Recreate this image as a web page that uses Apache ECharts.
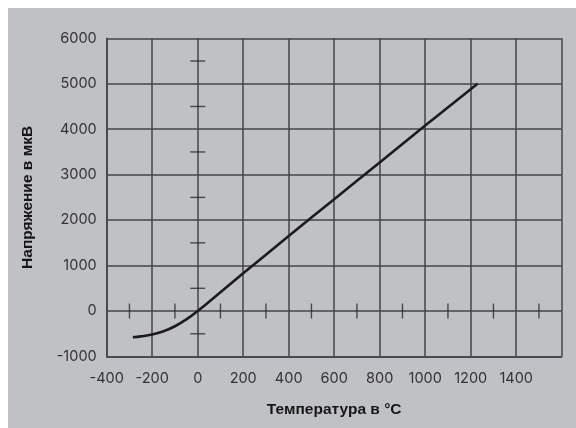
<!DOCTYPE html>
<html>
<head>
<meta charset="utf-8">
<script src="https://cdn.jsdelivr.net/npm/echarts@6/dist/echarts.min.js"></script>
<style>
html,body{margin:0;padding:0;background:#ffffff;}
#chart{position:absolute;left:8px;top:8px;width:568px;height:420px;background:#c0c1c5;}
</style>
</head>
<body>
<div id="chart"></div>
<script>
// Data
const temperatures = [-285, -250, -200, -150, -100, -50, 0, 100, 200, 400, 600, 800, 1000, 1230];
const voltages     = [-575, -557, -518, -445, -335, -185, 0, 415, 830, 1650, 2460, 3270, 4080, 5000];
// Crossing tick marks on the zero lines
const xZeroTicks = [-300, -100, 100, 300, 500, 700, 900, 1100, 1300, 1500];
const yZeroTicks = [-500, 500, 1500, 2500, 3500, 4500, 5500];
const xAxisTitle = 'Температура в °С';
const yAxisTitle = 'Напряжение в мкВ';

const curve = temperatures.map((t, i) => [t, voltages[i]]);
const xTickPts = xZeroTicks.map(v => [v, 0]);
const yTickPts = yZeroTicks.map(v => [0, v]);

const chart = echarts.init(document.getElementById('chart'), null, {renderer: 'canvas'});
const labelFont = {fontFamily: 'Inter', fontSize: 14.5, color: '#333333'};
const nameFont = {fontFamily: 'Liberation Sans', fontSize: 15.5, fontWeight: 'bold', color: '#161616'};
const gridLine = {color: '#444444', width: 1.5};

chart.setOption({
  animation: false,
  backgroundColor: 'transparent',
  grid: {left: 98.7, top: 30.3, right: 14.3, bottom: 71.5, containLabel: false},
  xAxis: {
    type: 'value', min: -400, max: 1600, interval: 200,
    name: xAxisTitle, nameLocation: 'middle', nameGap: 45, nameTextStyle: nameFont,
    axisLine: {show: true, onZero: false, lineStyle: gridLine},
    axisTick: {show: false},
    splitLine: {show: true, lineStyle: gridLine},
    axisLabel: Object.assign({margin: 15, showMaxLabel: false,
      formatter: v => (v === 1600 ? '' : String(v))}, labelFont)
  },
  yAxis: {
    type: 'value', min: -1000, max: 6000, interval: 1000,
    name: yAxisTitle, nameLocation: 'middle', nameGap: 71, nameTextStyle: nameFont,
    axisLine: {show: true, onZero: false, lineStyle: gridLine},
    axisTick: {show: false},
    splitLine: {show: true, lineStyle: gridLine},
    axisLabel: Object.assign({margin: 10, formatter: v => String(v)}, labelFont)
  },
  series: [
    {
      type: 'scatter', data: xTickPts, symbol: 'rect', symbolSize: [1.4, 15],
      itemStyle: {color: '#2a2a2a'}, silent: true, z: 3
    },
    {
      type: 'scatter', data: yTickPts, symbol: 'rect', symbolSize: [15, 1.4],
      itemStyle: {color: '#2a2a2a'}, silent: true, z: 3
    },
    {
      type: 'line', data: curve, smooth: 0.4, showSymbol: false,
      lineStyle: {color: '#1c1c1c', width: 2.6}, z: 4
    }
  ]
});
</script>
</body>
</html>
